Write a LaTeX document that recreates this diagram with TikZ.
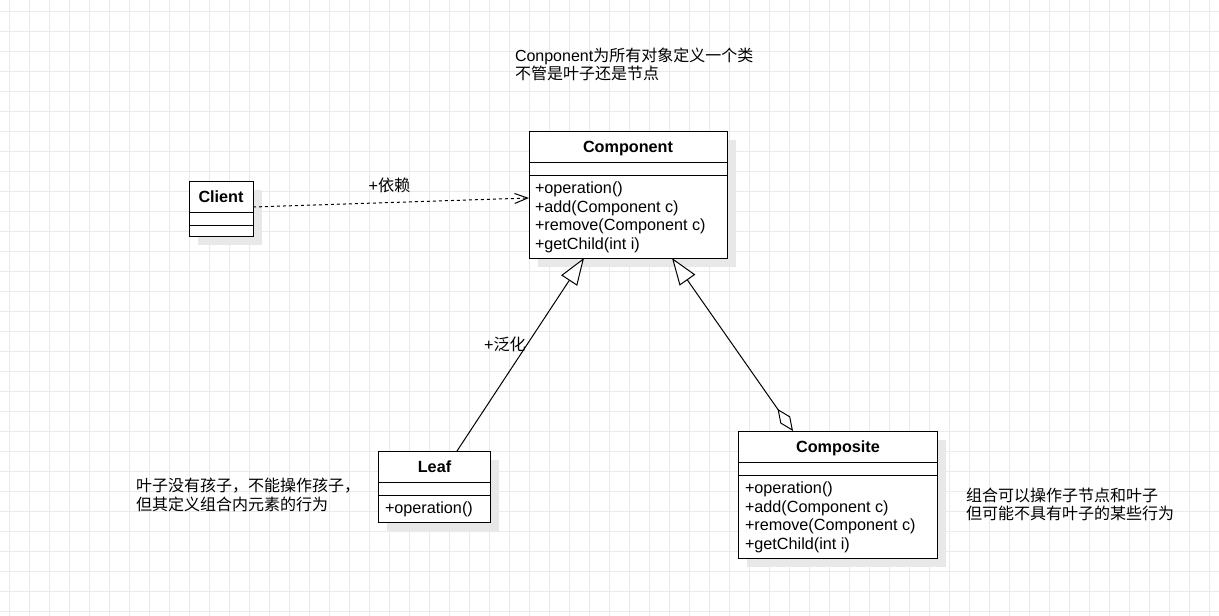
\documentclass[tikz,border=0pt]{standalone}
\usepackage{fontspec}
\setmainfont{Liberation Sans}
\newfontfamily\cjk{Noto Sans CJK SC}
\usetikzlibrary{arrows.meta,shadows}
\definecolor{gridc}{RGB}{234,234,234}
\definecolor{shadowc}{RGB}{232,232,232}
\begin{document}
\begin{tikzpicture}[x=1pt,y=-1pt,
  every node/.style={font=\fontsize{16.2}{18.6}\selectfont, inner sep=0pt, outer sep=0pt},
  classbox/.style={rectangle, draw=black, line width=1pt, fill=white,
    drop shadow={shadow xshift=8.5pt, shadow yshift=-8.5pt, fill=shadowc, opacity=1}},
  title/.style={font=\fontsize{16.2}{18.6}\selectfont\bfseries, yshift=-2pt},
  member/.style={anchor=west, yshift=-2pt},
  note/.style={anchor=west, align=left, font=\fontsize{16}{18.5}\selectfont, yshift=-1pt},
  sepline/.style={line width=1pt, draw=black},
  gridline/.style={draw=gridc, line width=1pt},
  dep/.style={line width=1pt, dash pattern=on 3pt off 3pt, -{Straight Barb[length=13pt,width=10pt]}},
  gen/.style={line width=1pt, -{Triangle[length=27pt,width=19pt,fill=white]}},
  aggen/.style={line width=1pt, {Diamond[length=27pt,width=12pt,fill=white]}-{Triangle[length=27pt,width=19pt,fill=white]}}
]
\useasboundingbox (0,0) rectangle (1219,616);
\fill[white] (0,0) rectangle (1219,616);
% grid
\foreach \x in {9.5,29.5,...,1209.5} \draw[gridline] (\x,0) -- (\x,616);
\foreach \y in {11,31,...,611} \draw[gridline] (0,\y) -- (1219,\y);

% Component
\node[classbox, minimum width=198pt, minimum height=127pt] (component) at (628,194.5) {};
\draw[sepline] (component.west |- 0,162) -- (component.east |- 0,162);
\draw[sepline] (component.west |- 0,175) -- (component.east |- 0,175);
\node[title] (componentTitle) at (628,146.5) {Component};
\node[member] (cm1) at (535,187.5) {+operation()};
\node[member] (cm2) at (535,206) {+add(Component c)};
\node[member] (cm3) at (535,224.5) {+remove(Component c)};
\node[member] (cm4) at (535,243) {+getChild(int i)};

% Client
\node[classbox, minimum width=64pt, minimum height=55pt] (client) at (221,208.5) {};
\draw[sepline] (client.west |- 0,212.3) -- (client.east |- 0,212.3);
\draw[sepline] (client.west |- 0,225) -- (client.east |- 0,225);
\node[title] (clientTitle) at (221,194.5) {Client};

% Leaf
\node[classbox, minimum width=112pt, minimum height=71pt] (leaf) at (434.5,486.5) {};
\draw[sepline] (leaf.west |- 0,482.3) -- (leaf.east |- 0,482.3);
\draw[sepline] (leaf.west |- 0,495) -- (leaf.east |- 0,495);
\node[title] (leafTitle) at (434.5,464.5) {Leaf};
\node[member] (lm1) at (385,507.5) {+operation()};

% Composite
\node[classbox, minimum width=199pt, minimum height=127pt] (composite) at (838,494.5) {};
\draw[sepline] (composite.west |- 0,462.3) -- (composite.east |- 0,462.3);
\draw[sepline] (composite.west |- 0,475) -- (composite.east |- 0,475);
\node[title] (compositeTitle) at (838,446.5) {Composite};
\node[member] (pm1) at (745,487.5) {+operation()};
\node[member] (pm2) at (745,506) {+add(Component c)};
\node[member] (pm3) at (745,524.5) {+remove(Component c)};
\node[member] (pm4) at (745,543) {+getChild(int i)};

% connectors
\draw[dep] ([yshift=1.5pt]client.east) -- ([yshift=-3.5pt]component.west);
\node (depLabel) at (389.5,185) {+{\cjk 依赖}};
\draw[gen] ([xshift=22.5pt]leaf.north) -- ([xshift=-44pt]component.south);
\node (genLabel) at (505,344) {+{\cjk 泛化}};
\draw[aggen] ([xshift=-45pt]composite.north) -- ([xshift=44pt]component.south);

% notes
\node[note] (note1) at (515,63.5) {Conponent{\cjk 为所有对象定义一个类}\\{\cjk 不管是叶子还是节点}};
\node[note] (note2) at (136,494) {{\cjk 叶子没有孩子，不能操作孩子，}\\{\cjk 但其定义组合内元素的行为}};
\node[note] (note3) at (966,503.5) {{\cjk 组合可以操作子节点和叶子}\\{\cjk 但可能不具有叶子的某些行为}};
\end{tikzpicture}
\end{document}
